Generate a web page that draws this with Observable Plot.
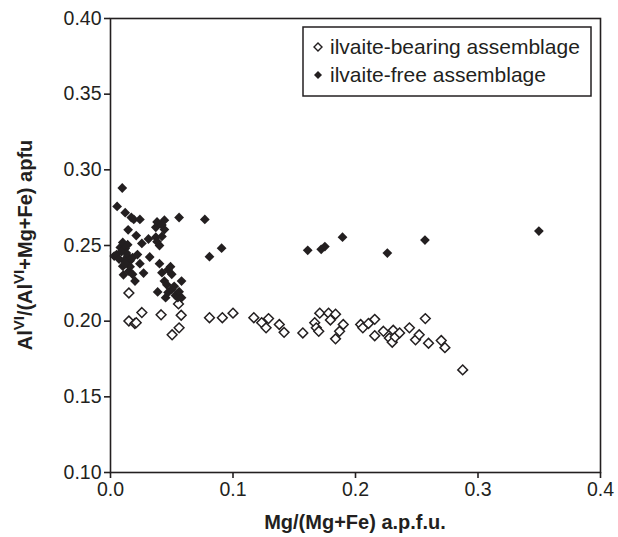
<!DOCTYPE html>
<html>
<head>
<meta charset="utf-8">
<script src="https://cdn.jsdelivr.net/npm/d3@7"></script>
<script src="https://cdn.jsdelivr.net/npm/@observablehq/plot@0.6"></script>
<style>
  html, body { margin: 0; padding: 0; background: #fff; }
  #chart svg { display: block; }
</style>
</head>
<body>
<div id="chart"></div>
<script>
// ilvaite-free assemblage (filled diamonds)
const freeX = [0.0096, 0.0054, 0.012, 0.017, 0.019, 0.024, 0.037, 0.038, 0.044, 0.056, 0.077,
  0.0144, 0.021, 0.031, 0.0256, 0.037, 0.042, 0.044, 0.0808, 0.0907, 0.161, 0.172, 0.175,
  0.1894, 0.226, 0.2567, 0.3497,
  0.003, 0.005, 0.008, 0.010, 0.0106, 0.015, 0.016, 0.014, 0.018, 0.022, 0.024, 0.027, 0.032,
  0.020, 0.0385, 0.040, 0.042, 0.044, 0.047, 0.049, 0.050, 0.045, 0.047, 0.050, 0.053, 0.055,
  0.056, 0.058, 0.058, 0.040, 0.038, 0.042, 0.010, 0.012, 0.013, 0.011, 0.009, 0.014, 0.016,
  0.018, 0.007, 0.012, 0.046, 0.052];
const freeY = [0.288, 0.2758, 0.2717, 0.2685, 0.2672, 0.2672, 0.262, 0.2656, 0.2667, 0.2685, 0.2672,
  0.2604, 0.2566, 0.2543, 0.2514, 0.2555, 0.2560, 0.2605, 0.2426, 0.2482, 0.2468, 0.2475, 0.2493,
  0.2555, 0.245, 0.2536, 0.2595,
  0.243, 0.244, 0.2487, 0.2363, 0.2306, 0.233, 0.240, 0.243, 0.242, 0.244, 0.238, 0.2318, 0.2424,
  0.2265, 0.2193, 0.238, 0.232, 0.2265, 0.234, 0.236, 0.231, 0.2155, 0.219, 0.221, 0.217, 0.2155,
  0.2195, 0.2155, 0.2265, 0.250, 0.2525, 0.2635, 0.252, 0.248, 0.245, 0.240, 0.246, 0.2505, 0.236,
  0.231, 0.241, 0.238, 0.224, 0.223];

// ilvaite-bearing assemblage (open diamonds)
const bearX = [0.015, 0.015, 0.0199, 0.021, 0.0256, 0.0413, 0.0503, 0.056, 0.0555, 0.0577,
  0.0808, 0.0913, 0.100, 0.117, 0.1234, 0.127, 0.129, 0.1378, 0.1417, 0.157, 0.1667, 0.168,
  0.170, 0.1708, 0.178, 0.1795, 0.1837, 0.1837, 0.187, 0.190, 0.2042, 0.206, 0.2106, 0.2157,
  0.2157, 0.2228, 0.2276, 0.2308, 0.230, 0.2324, 0.236, 0.244, 0.249, 0.252, 0.257, 0.2596,
  0.270, 0.273, 0.2875];
const bearY = [0.2186, 0.2001, 0.1985, 0.1990, 0.2057, 0.2042, 0.191, 0.1956, 0.2114, 0.2039,
  0.2023, 0.2023, 0.2053, 0.2023, 0.199, 0.1956, 0.2017, 0.1978, 0.1926, 0.1922, 0.199, 0.1956,
  0.1933, 0.2053, 0.2053, 0.2008, 0.2046, 0.1883, 0.1933, 0.1978, 0.1978, 0.1956, 0.1985, 0.2012,
  0.1904, 0.1933, 0.1888, 0.1940, 0.1861, 0.1895, 0.1922, 0.1956, 0.1877, 0.191, 0.2017, 0.1854,
  0.1872, 0.1825, 0.1678];

const xTicks = [0, 0.1, 0.2, 0.3, 0.4];
const yTicks = [0.10, 0.15, 0.20, 0.25, 0.30, 0.35, 0.40];
const legendLabels = ["ilvaite-bearing assemblage", "ilvaite-free assemblage"];

const ink = "#231f20";
const free = freeX.map((x, i) => ({x, y: freeY[i]}));
const bear = bearX.map((x, i) => ({x, y: bearY[i]}));

const W = 618, H = 537;
const mL = 110, mR = 18, mT = 18, mB = 65;
const font = "'Liberation Sans', Arial, sans-serif";

const plot = Plot.plot({
  width: W, height: H,
  marginLeft: mL, marginRight: mR, marginTop: mT, marginBottom: mB,
  style: {fontFamily: font, background: "#fff"},
  x: {domain: [0, 0.4]},
  y: {domain: [0.1, 0.4]},
  marks: [
    Plot.axisX({ticks: xTicks, tickFormat: d3.format(".1f"), label: null, tickSize: 6, tickPadding: 4,
      fontSize: 19.5, stroke: ink, fill: ink, strokeWidth: 1.6}),
    Plot.axisY({ticks: yTicks, tickFormat: d3.format(".2f"), label: null, tickSize: 6, tickPadding: 3,
      fontSize: 19.5, stroke: ink, fill: ink, strokeWidth: 1.6}),
    Plot.frame({stroke: ink, strokeWidth: 1.6}),
    Plot.dot(bear, {x: "x", y: "y", symbol: "diamond2", r: 4.4, fill: "#fff", stroke: ink, strokeWidth: 1.5}),
    Plot.dot(free, {x: "x", y: "y", symbol: "diamond2", r: 4.4, fill: ink, stroke: "none"})
  ]
});
document.getElementById("chart").appendChild(plot);

const svg = d3.select(plot);
// make sure tick labels (the only texts drawn by Plot) are at the reference size
svg.selectAll("text").style("font-size", "19.5px").style("font-family", font);

// x axis title
svg.append("text")
  .attr("x", mL + (W - mL - mR) / 2).attr("y", 529)
  .attr("text-anchor", "middle")
  .attr("font-family", font)
  .attr("font-weight", "bold").attr("font-size", 20).attr("fill", ink)
  .text("Mg/(Mg+Fe) a.p.f.u.");

// y axis title with superscripts
const yt = svg.append("text")
  .attr("transform", `translate(32,${mT + (H - mT - mB) / 2}) rotate(-90)`)
  .attr("text-anchor", "middle")
  .attr("font-family", font)
  .attr("font-weight", "bold").attr("font-size", 20).attr("fill", ink);
yt.append("tspan").text("Al");
yt.append("tspan").attr("font-size", 15).attr("dy", -8).text("VI");
yt.append("tspan").attr("dy", 8).text("/(Al");
yt.append("tspan").attr("font-size", 15).attr("dy", -8).text("VI");
yt.append("tspan").attr("dy", 8).text("+Mg+Fe) apfu");

// legend
const lg = svg.append("g");
lg.append("rect").attr("x", 303).attr("y", 27).attr("width", 288).attr("height", 69)
  .attr("fill", "#fff").attr("stroke", ink).attr("stroke-width", 1.5);
const sym = d3.symbol().type(d3.symbolDiamond2).size(Math.PI * 3.6 * 3.6);
legendLabels.forEach((t, i) => {
  const cy = 47 + i * 28;
  lg.append("path").attr("d", sym()).attr("transform", `translate(318,${cy})`)
    .attr("fill", i === 0 ? "#fff" : ink).attr("stroke", i === 0 ? ink : "none").attr("stroke-width", 1.4);
  lg.append("text").attr("x", 330).attr("y", cy).attr("dy", "0.35em")
    .attr("text-anchor", "start")
    .attr("font-family", font)
    .attr("font-size", 21).attr("fill", ink).text(t);
});
</script>
</body>
</html>
